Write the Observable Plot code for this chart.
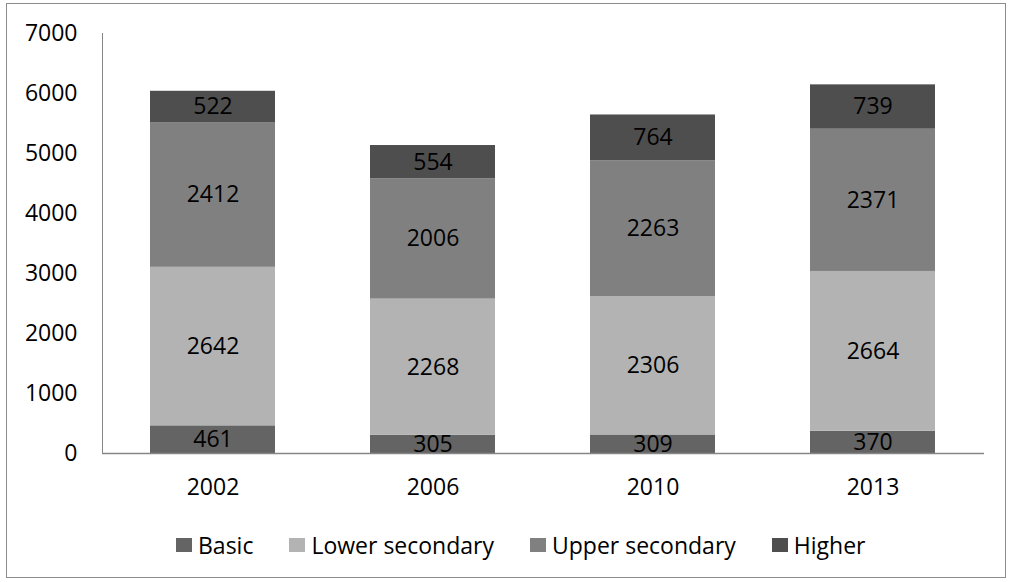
<!DOCTYPE html>
<html>
<head>
<meta charset="utf-8">
<script src="https://cdn.jsdelivr.net/npm/d3@7"></script>
<script src="https://cdn.jsdelivr.net/npm/@observablehq/plot@0.6"></script>
<style>
  html, body { margin: 0; padding: 0; background: #fff; }
  #wrap { position: relative; width: 1013px; height: 582px; font-family: "Open Sans", sans-serif; }
  #border { position: absolute; left: 6px; top: 3px; width: 998px; height: 573px; border: 1px solid #8c8c8c; }
  #chart { position: absolute; left: 0; top: 0; }
  #legend { position: absolute; left: 176px; top: 529px; display: flex; align-items: center; font-size: 23px; color: #000; white-space: nowrap; }
  #legend .item { display: flex; align-items: center; margin-right: 36px; }
  #legend .sw { width: 16px; height: 14px; margin-right: 6px; }
</style>
</head>
<body>
<div id="wrap">
  <div id="border"></div>
  <div id="chart"></div>
  <div id="legend"></div>
</div>
<script>
// Survey years and counts by education level
const years = ["2002", "2006", "2010", "2013"];
const levels = ["Basic", "Lower secondary", "Upper secondary", "Higher"];
const basic = [461, 305, 309, 370];
const lowerSecondary = [2642, 2268, 2306, 2664];
const upperSecondary = [2412, 2006, 2263, 2371];
const higher = [522, 554, 764, 739];
const yTicks = [0, 1000, 2000, 3000, 4000, 5000, 6000, 7000];
const colors = ["#646464", "#b3b3b3", "#808080", "#4e4e4e"];

// Long table, stacked bottom-up in level order
const series = [basic, lowerSecondary, upperSecondary, higher];
const rows = [];
levels.forEach((level, i) => {
  years.forEach((year, j) => rows.push({year, level, value: series[i][j]}));
});

const chart = Plot.plot({
  width: 1013,
  height: 520,
  marginLeft: 102,
  marginRight: 29,
  marginTop: 33,
  marginBottom: 67,
  style: {fontFamily: "Open Sans, sans-serif", fontSize: "23px", color: "#000", background: "transparent"},
  x: {domain: years, paddingInner: 0.43, paddingOuter: 0.215, label: null},
  y: {domain: [0, 7000], label: null},
  color: {domain: levels, range: colors},
  marks: [
    Plot.barY(rows, {x: "year", y: "value", fill: "level", z: "level"}),
    Plot.text(rows, Plot.stackY({x: "year", y: "value", z: "level", text: (d) => String(d.value), fill: "#000", fontSize: 23})),
    Plot.frame({anchor: "left", stroke: "#868686"}),
    Plot.ruleY([0], {stroke: "#868686", strokeWidth: 1.5}),
    Plot.axisY({ticks: yTicks, tickFormat: (d) => String(d), tickSize: 0, tickPadding: 25, label: null}),
    Plot.axisX({tickSize: 0, tickPadding: 25, label: null})
  ]
});
document.getElementById("chart").appendChild(chart);

// Legend swatches
const legend = document.getElementById("legend");
levels.forEach((level, i) => {
  const item = document.createElement("div");
  item.className = "item";
  const sw = document.createElement("span");
  sw.className = "sw";
  sw.style.background = colors[i];
  const label = document.createElement("span");
  label.textContent = level;
  item.appendChild(sw);
  item.appendChild(label);
  legend.appendChild(item);
});
</script>
</body>
</html>
